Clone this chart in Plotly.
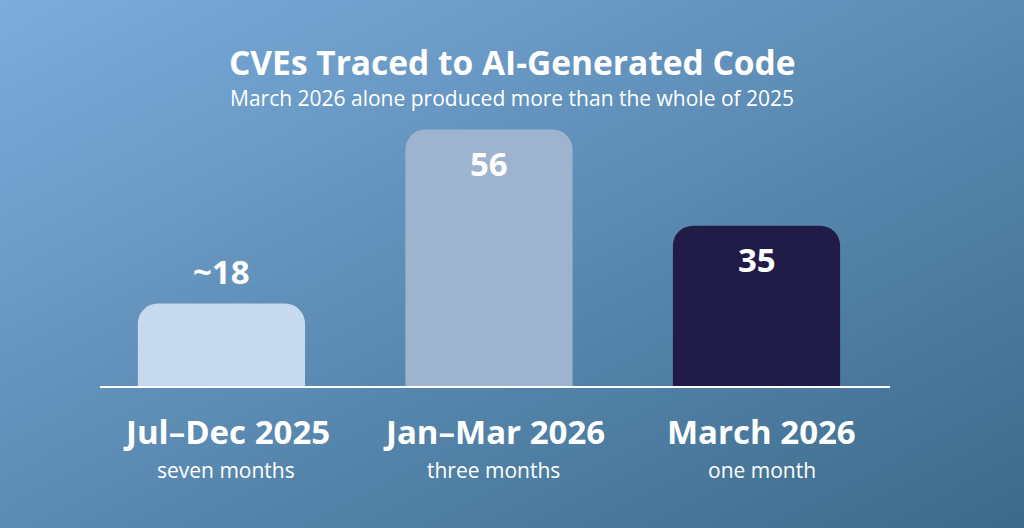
import plotly.graph_objects as go

# ---- data ----
categories = ["Jul–Dec 2025", "Jan–Mar 2026", "March 2026"]
sublabels = ["seven months", "three months", "one month"]
values = [18, 56, 35]
value_labels = ["~18", "56", "35"]
bar_colors = ["#c6d9ee", "#9eb3cd", "#211c47"]
label_inside = [False, True, True]

title = "CVEs Traced to AI-Generated Code"
subtitle = "March 2026 alone produced more than the whole of 2025"

W, H = 1024, 528
FONT = "Open Sans"

fig = go.Figure()

# background diagonal gradient (bilinear heatmap on a hidden full-paper axis, drawn first)
fig.add_trace(go.Heatmap(
    z=[[0.5, 1.0], [0.0, 0.5]], x=[0, 1], y=[0, 1],
    zsmooth="best", showscale=False, hoverinfo="skip",
    colorscale=[[0, "#7cacdc"], [1, "#3b6a8a"]], zmin=0, zmax=1,
    xaxis="x", yaxis="y",
))

xpos = list(range(len(categories)))
fig.add_trace(go.Bar(
    x=xpos, y=values, width=0.625,
    marker=dict(color=bar_colors, cornerradius=20, line=dict(width=0)),
    hoverinfo="skip", xaxis="x2", yaxis="y2",
))

annotations = []
for i, (v, t, inside) in enumerate(zip(values, value_labels, label_inside)):
    annotations.append(dict(
        x=i, y=v, xref="x2", yref="y2", text=f"<b>{t}</b>", showarrow=False,
        yanchor="middle", yshift=-34 if inside else 32,
        font=dict(family=FONT, size=33, color="white"),
    ))
for i, (c, s) in enumerate(zip(categories, sublabels)):
    annotations.append(dict(
        x=i, y=(H - 432) / H, xref="x2", yref="paper", text=f"<b>{c}</b>",
        showarrow=False, yanchor="middle", xshift=5,
        font=dict(family=FONT, size=33, color="white"),
    ))
    annotations.append(dict(
        x=i, y=(H - 470) / H, xref="x2", yref="paper", text=s,
        showarrow=False, yanchor="middle", xshift=5,
        font=dict(family=FONT, size=21, color="white"),
    ))
annotations.append(dict(
    x=0.5, y=(H - 62) / H, xref="paper", yref="paper", text=f"<b>{title}</b>",
    showarrow=False, yanchor="middle",
    font=dict(family=FONT, size=33.5, color="white"),
))
annotations.append(dict(
    x=0.5, y=(H - 98) / H, xref="paper", yref="paper", text=subtitle,
    showarrow=False, yanchor="middle",
    font=dict(family=FONT, size=21, color="white"),
))

px_per_unit = 4.58
base_px = 386
ymax = 60
fig.update_layout(
    width=W, height=H,
    margin=dict(l=0, r=0, t=0, b=0),
    paper_bgcolor="#5b8bb7", plot_bgcolor="rgba(0,0,0,0)",
    showlegend=False,
    font=dict(family=FONT, color="white"),
    annotations=annotations,
    xaxis=dict(domain=[0, 1], range=[0, 1], visible=False, fixedrange=True),
    yaxis=dict(domain=[0, 1], range=[0, 1], visible=False, fixedrange=True),
    xaxis2=dict(domain=[100 / W, 890 / W], range=[-0.454, 2.499],
                showgrid=False, zeroline=False, showticklabels=False,
                ticks="", showline=True, linecolor="white", linewidth=2,
                fixedrange=True, anchor="y2"),
    yaxis2=dict(domain=[(H - base_px) / H, (H - base_px + ymax * px_per_unit) / H],
                range=[0, ymax], showgrid=False, zeroline=False,
                showticklabels=False, showline=False, fixedrange=True,
                anchor="x2"),
)

fig.write_html("out.html", config={"displayModeBar": False})
